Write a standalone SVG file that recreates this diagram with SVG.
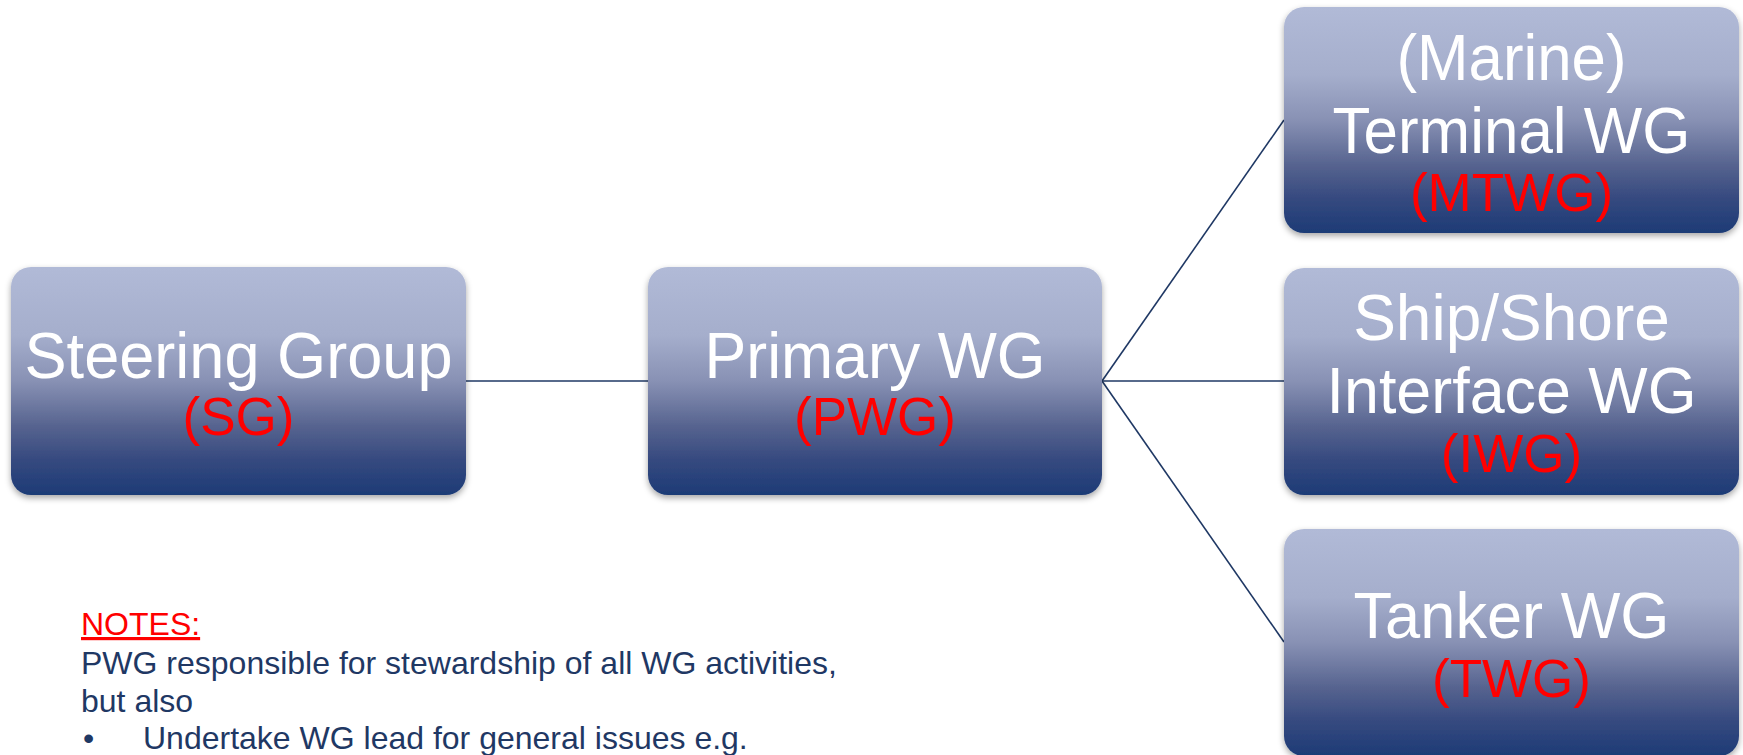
<svg xmlns="http://www.w3.org/2000/svg" width="1743" height="755" viewBox="0 0 1743 755">
  <defs>
    <linearGradient id="boxGrad" x1="0" y1="0" x2="0" y2="1">
      <stop offset="0" stop-color="#B1BAD7"/>
      <stop offset="0.3" stop-color="#A5AECC"/>
      <stop offset="0.5" stop-color="#8891B4"/>
      <stop offset="0.7" stop-color="#56638F"/>
      <stop offset="0.85" stop-color="#35497F"/>
      <stop offset="1" stop-color="#1D3B76"/>
    </linearGradient>
    <filter id="shadow" x="-5%" y="-5%" width="110%" height="115%">
      <feDropShadow dx="0" dy="3" stdDeviation="3" flood-color="#000" flood-opacity="0.35"/>
    </filter>
  </defs>
  <style>
    .box { fill: url(#boxGrad); filter: url(#shadow); }
    .main { font-family: "Liberation Sans", Arial, sans-serif; font-size: 64px; fill: #FFFFFF; text-anchor: middle; }
    .abbr { font-family: "Liberation Sans", Arial, sans-serif; font-size: 53px; fill: #FF0000; text-anchor: middle; }
    .conn { stroke: #1F3864; stroke-width: 1.6; fill: none; }
    .note { font-family: "Liberation Sans", Arial, sans-serif; font-size: 32px; fill: #1F3864; }
    .noteHead { font-family: "Liberation Sans", Arial, sans-serif; font-size: 32px; fill: #FF0000; text-decoration: underline; }
  </style>
  <rect width="1743" height="755" fill="#FFFFFF"/>

  <g id="connectors">
    <line class="conn" x1="466" y1="381" x2="648" y2="381"/>
    <line class="conn" x1="1102" y1="381" x2="1284" y2="120"/>
    <line class="conn" x1="1102" y1="381" x2="1284" y2="381"/>
    <line class="conn" x1="1102" y1="381" x2="1284" y2="642"/>
  </g>

  <g id="node-sg">
    <rect class="box" x="11" y="267" width="455" height="228" rx="20" ry="20"/>
    <text class="main" x="238.5" y="378" textLength="428" lengthAdjust="spacingAndGlyphs">Steering Group</text>
    <text class="abbr" x="238.5" y="435">(SG)</text>
  </g>

  <g id="node-pwg">
    <rect class="box" x="648" y="267" width="454" height="228" rx="20" ry="20"/>
    <text class="main" x="875" y="378" textLength="341" lengthAdjust="spacingAndGlyphs">Primary WG</text>
    <text class="abbr" x="875" y="435">(PWG)</text>
  </g>

  <g id="node-mtwg">
    <rect class="box" x="1284" y="7" width="455" height="226" rx="20" ry="20"/>
    <text class="main" x="1511.5" y="80" textLength="230" lengthAdjust="spacingAndGlyphs">(Marine)</text>
    <text class="main" x="1511.5" y="153" textLength="358" lengthAdjust="spacingAndGlyphs">Terminal WG</text>
    <text class="abbr" x="1511.5" y="211">(MTWG)</text>
  </g>

  <g id="node-iwg">
    <rect class="box" x="1284" y="268" width="455" height="227" rx="20" ry="20"/>
    <text class="main" x="1511.5" y="340">Ship/Shore</text>
    <text class="main" x="1511.5" y="413" textLength="370" lengthAdjust="spacingAndGlyphs">Interface WG</text>
    <text class="abbr" x="1511.5" y="472">(IWG)</text>
  </g>

  <g id="node-twg">
    <rect class="box" x="1284" y="529" width="455" height="227" rx="20" ry="20"/>
    <text class="main" x="1511.5" y="638" textLength="316" lengthAdjust="spacingAndGlyphs">Tanker WG</text>
    <text class="abbr" x="1511.5" y="697">(TWG)</text>
  </g>

  <g id="notes">
    <text class="noteHead" x="81" y="635">NOTES:</text>
    <text class="note" x="81" y="674">PWG responsible for stewardship of all WG activities,</text>
    <text class="note" x="81" y="712">but also</text>
    <text class="note" x="83" y="749">•</text>
    <text class="note" x="143" y="749">Undertake WG lead for general issues e.g.</text>
  </g>
</svg>
